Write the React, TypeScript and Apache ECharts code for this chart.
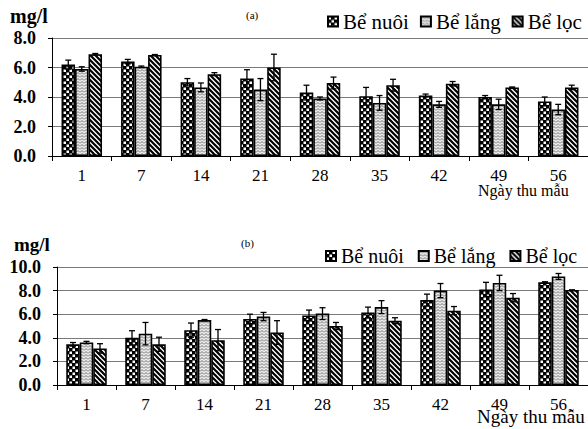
import React, { useEffect, useRef } from "react";
import * as echarts from "echarts";

const days = ["1", "7", "14", "21", "28", "35", "42", "49", "56"];
const seriesNames = ["Bể nuôi", "Bể lắng", "Bể lọc"];
const yTicksA = [0, 2, 4, 6, 8];
const yTicksB = [0, 2, 4, 6, 8, 10];

// Panel (a)
const aNuoi = [6.2, 6.4, 5.0, 5.25, 4.3, 4.05, 4.1, 4.0, 3.7];
const aNuoiErr = [0.3, 0.15, 0.25, 0.6, 0.5, 0.6, 0.1, 0.1, 0.3];
const aLang = [5.9, 6.05, 4.65, 4.5, 3.9, 3.6, 3.5, 3.5, 3.15];
const aLangErr = [0.15, 0.05, 0.3, 0.75, 0.1, 0.5, 0.2, 0.35, 0.35];
const aLoc = [6.9, 6.85, 5.55, 6.0, 4.95, 4.8, 4.9, 4.65, 4.65];
const aLocErr = [0.05, 0.03, 0.1, 0.9, 0.4, 0.4, 0.15, 0.03, 0.15];

// Panel (b)
const bNuoi = [3.45, 4.0, 4.65, 5.6, 5.9, 6.15, 7.2, 8.1, 8.7];
const bNuoiErr = [0.15, 0.6, 0.6, 0.4, 0.45, 0.45, 0.5, 0.6, 0.05];
const bLang = [3.6, 4.35, 5.5, 5.8, 6.05, 6.6, 8.0, 8.65, 9.2];
const bLangErr = [0.1, 0.95, 0.05, 0.35, 0.5, 0.55, 0.6, 0.65, 0.25];
const bLoc = [3.1, 3.45, 3.8, 4.45, 5.0, 5.45, 6.3, 7.4, 8.05];
const bLocErr = [0.4, 0.6, 0.9, 1.0, 0.3, 0.25, 0.35, 0.35, 0.0];

const FONT = "Liberation Serif, Times New Roman, serif";

function makeCanvas(w: number, h: number, draw: (ctx: CanvasRenderingContext2D) => void) {
  const c = document.createElement("canvas");
  c.width = w;
  c.height = h;
  const ctx = c.getContext("2d")!;
  ctx.fillStyle = "#fff";
  ctx.fillRect(0, 0, w, h);
  draw(ctx);
  return c;
}

function buildPatterns() {
  const checker = makeCanvas(6, 6, (ctx) => {
    ctx.fillStyle = "#000";
    ctx.fillRect(0, 0, 6, 6);
    ctx.fillStyle = "#fff";
    ctx.fillRect(0.5, 0.5, 2.5, 2.5);
    ctx.fillRect(3.5, 3.5, 2.5, 2.5);
  });
  const wave = makeCanvas(4, 3, (ctx) => {
    ctx.fillStyle = "#ececec";
    ctx.fillRect(0, 0, 4, 3);
    ctx.strokeStyle = "#707070";
    ctx.lineWidth = 1;
    ctx.beginPath();
    ctx.moveTo(0, 2.5);
    ctx.lineTo(2, 0.5);
    ctx.lineTo(4, 2.5);
    ctx.stroke();
  });
  const diag = makeCanvas(5, 5, (ctx) => {
    ctx.strokeStyle = "#000";
    ctx.lineWidth = 2.2;
    ctx.beginPath();
    for (let k = -1; k <= 1; k++) {
      ctx.moveTo(k * 5 - 1, -1);
      ctx.lineTo(k * 5 + 6, 6);
    }
    ctx.stroke();
  });
  const pat = (c: HTMLCanvasElement) => ({
    image: c,
    repeat: "repeat",
    imageWidth: c.width,
    imageHeight: c.height,
  });
  return [pat(checker), pat(wave), pat(diag)];
}

const BAR_W = 13.5;

function errSeries(gi: number, vals: number[], errs: number[], offset: number) {
  return {
    type: "custom",
    xAxisIndex: gi,
    yAxisIndex: gi,
    z: 10,
    silent: true,
    clip: false,
    encode: { x: 0, y: 1 },
    data: vals.map((v, i) => [i, v, errs[i]]),
    renderItem: (_p: any, api: any) => {
      const i = api.value(0);
      const v = api.value(1);
      const e = api.value(2);
      const top = api.coord([i, v + e]);
      const bot = api.coord([i, v - e]);
      const x = top[0] + offset;
      const cap = 3;
      const st = { stroke: "#000", lineWidth: 1.3 };
      return {
        type: "group",
        children: [
          { type: "line", shape: { x1: x, y1: top[1], x2: x, y2: bot[1] }, style: st },
          { type: "line", shape: { x1: x - cap, y1: top[1], x2: x + cap, y2: top[1] }, style: st },
          { type: "line", shape: { x1: x - cap, y1: bot[1], x2: x + cap, y2: bot[1] }, style: st },
        ],
      };
    },
  };
}

export default function App() {
  const ref = useRef<HTMLDivElement>(null);
  useEffect(() => {
    document.body.style.margin = "0";
    if (!ref.current) return;
    const chart = echarts.init(ref.current, undefined, { renderer: "svg" });
    const pats = buildPatterns();

    const xAxisBase = (gi: number) => ({
      type: "category",
      gridIndex: gi,
      data: days,
      axisLine: { show: true, lineStyle: { color: "#000", width: 1 } },
      axisTick: { show: true, length: 5, lineStyle: { color: "#000" } },
      axisLabel: { color: "#000", fontFamily: FONT, fontSize: 17, margin: 11 },
    });
    const yAxisBase = (gi: number, ticks: number[]) => ({
      type: "value",
      gridIndex: gi,
      min: ticks[0],
      max: ticks[ticks.length - 1],
      interval: ticks[1] - ticks[0],
      axisLine: { show: true, lineStyle: { color: "#000", width: 1 } },
      axisTick: { show: true, length: 4, lineStyle: { color: "#000" } },
      splitLine: { show: true, lineStyle: { color: "#7a7a7a", width: 1 } },
      axisLabel: {
        color: "#000",
        fontFamily: FONT,
        fontSize: 18,
        fontWeight: "bold",
        margin: 16,
        formatter: (v: number) => v.toFixed(1),
      },
    });

    const bars = (gi: number, arrs: number[][]) =>
      arrs.map((d, k) => ({
        type: "bar",
        name: seriesNames[k],
        xAxisIndex: gi,
        yAxisIndex: gi,
        data: d,
        barWidth: BAR_W,
        barGap: "0%",
        itemStyle: { color: pats[k], borderColor: "#000", borderWidth: 1.6 },
        emphasis: { disabled: true },
      }));

    const offsets = [-BAR_W, 0, BAR_W];

    const legendBase = (left: number, top: number, fs: number, gap: number) => ({
      data: seriesNames,
      left,
      top,
      orient: "horizontal",
      icon: "rect",
      itemWidth: 10,
      itemHeight: 10,
      itemGap: gap,
      textStyle: { fontFamily: FONT, fontSize: fs, color: "#000" },
      selectedMode: false,
    });

    const txt = (text: string, x: number, y: number, fs: number, weight = "normal", align = "left") => ({
      type: "text",
      x,
      y,
      style: {
        text,
        fontFamily: FONT,
        fontSize: fs,
        fontWeight: weight,
        fill: "#000",
        textAlign: align,
        textVerticalAlign: "middle",
      },
    });

    chart.setOption({
      animation: false,
      backgroundColor: "#fff",
      textStyle: { fontFamily: FONT },
      grid: [
        { left: 52, top: 38, width: 540, height: 118 },
        { left: 57, top: 267, width: 536, height: 118 },
      ],
      xAxis: [xAxisBase(0), xAxisBase(1)],
      yAxis: [yAxisBase(0, yTicksA), yAxisBase(1, yTicksB)],
      legend: [legendBase(322, 6, 21, 11), legendBase(320, 241, 20, 14)],
      series: [
        ...bars(0, [aNuoi, aLang, aLoc]),
        errSeries(0, aNuoi, aNuoiErr, offsets[0]),
        errSeries(0, aLang, aLangErr, offsets[1]),
        errSeries(0, aLoc, aLocErr, offsets[2]),
        ...bars(1, [bNuoi, bLang, bLoc]),
        errSeries(1, bNuoi, bNuoiErr, offsets[0]),
        errSeries(1, bLang, bLangErr, offsets[1]),
        errSeries(1, bLoc, bLocErr, offsets[2]),
      ],
      graphic: [
        txt("mg/l", 10, 16, 20, "bold"),
        txt("(a)", 246, 15, 11),
        txt("Ngày thu mẫu", 478, 190, 16),
        txt("mg/l", 14, 244, 19, "bold"),
        txt("(b)", 241, 243, 11),
        txt("Ngày thu mẫu", 477, 416, 19),
      ],
    });
    return () => chart.dispose();
  }, []);
  return <div ref={ref} style={{ width: 588, height: 429 }} />;
}
